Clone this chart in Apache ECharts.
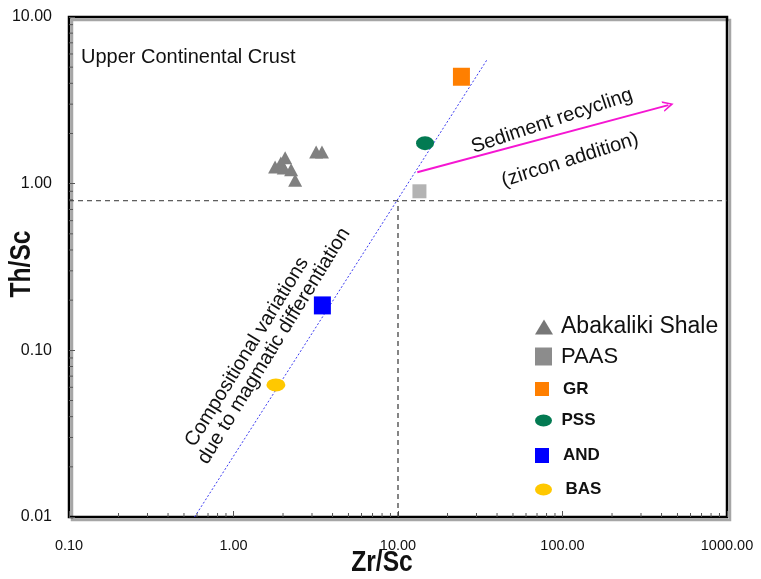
<!DOCTYPE html>
<html>
<head>
<meta charset="utf-8">
<script src="https://cdn.jsdelivr.net/npm/echarts@6/dist/echarts.min.js"></script>
<style>
  html, body { margin: 0; padding: 0; background: #fff; }
  #chart { width: 761px; height: 579px; }
</style>
</head>
<body>
<div id="chart"></div>
<script>
// Abakaliki Shale samples (Zr/Sc, Th/Sc)
const shaleZrSc = [1.79, 1.94, 2.06, 2.02, 2.24, 2.37, 3.18, 3.45];
const shaleThSc = [1.26, 1.33, 1.43, 1.24, 1.21, 1.05, 1.55, 1.55];

// Reference compositions
const paas = [13.5, 0.90];
const gr   = [24.3, 4.38];
const pss  = [14.6, 1.75];
const and  = [3.47, 0.186];
const bas  = [1.81, 0.062];

// Magmatic differentiation trend and UCC guide lines
const trendLine = [[0.58, 0.01], [35.0, 5.6]];
const uccTh = 0.79;
const uccZr = 10;
const uccHorizontal = [[0.1, uccTh], [1000, uccTh]];
const uccVertical = [[uccZr, 0.01], [uccZr, uccTh]];

// Sediment recycling arrow
const recyclingArrow = [[13.1, 1.17], [440, 2.96]];

// Axis ranges and minor tick positions
const xRange = [0.1, 1000];
const yRange = [0.01, 10];
const xMinorTicks = [0.2, 0.3, 0.4, 0.5, 0.6, 0.7, 0.8, 0.9,
                     2, 3, 4, 5, 6, 7, 8, 9,
                     20, 30, 40, 50, 60, 70, 80, 90,
                     200, 300, 400, 500, 600, 700, 800, 900];
const yMinorTicks = [0.02, 0.03, 0.04, 0.05, 0.06, 0.07, 0.08, 0.09,
                     0.2, 0.3, 0.4, 0.5, 0.6, 0.7, 0.8, 0.9,
                     2, 3, 4, 5, 6, 7, 8, 9];

const ellipse = 'path://M0,50 A50,50 0 1,1 100,50 A50,50 0 1,1 0,50 Z';
const chevron = 'path://M0,10 L5,0 L10,10 L8.4,10 L5,3.2 L1.6,10 Z';
const sans = '"Liberation Sans", Arial, sans-serif';

const chart = echarts.init(document.getElementById('chart'), null, { renderer: 'canvas' });

function legendBox(name, top, icon, w, h, font, weight, padLeft, color) {
  return {
    show: true,
    left: 535,
    top: top,
    orient: 'vertical',
    padding: 0,
    selectedMode: false,
    symbolKeepAspect: false,
    itemWidth: w,
    itemHeight: h,
    data: [{
      name: name,
      icon: icon,
      itemStyle: color ? { color: color, opacity: 1 } : { opacity: 1 }
    }],
    textStyle: {
      fontFamily: sans,
      fontSize: font,
      fontWeight: weight,
      color: '#111',
      padding: [0, 0, 0, padLeft]
    }
  };
}

function tickSeries(vals, isX) {
  return {
    type: 'custom',
    silent: true,
    clip: false,
    z: 5,
    data: vals.map(v => isX ? [v, yRange[0]] : [xRange[0], v]),
    renderItem: function (params, api) {
      const p = api.coord([api.value(0), api.value(1)]);
      const len = 4;
      return {
        type: 'line',
        shape: isX
          ? { x1: p[0], y1: p[1], x2: p[0], y2: p[1] - len }
          : { x1: p[0], y1: p[1], x2: p[0] + len, y2: p[1] },
        style: { stroke: '#555', lineWidth: 1 }
      };
    }
  };
}

const option = {
  backgroundColor: '#fff',
  animation: false,
  grid: {
    left: 69, right: 34, top: 17, bottom: 62,
    containLabel: false,
    outerBoundsMode: 'none',
    show: true,
    borderColor: '#000',
    borderWidth: 2.5,
    backgroundColor: 'transparent',
    shadowColor: 'rgba(0,0,0,0.35)',
    shadowOffsetX: 3,
    shadowOffsetY: 3,
    shadowBlur: 0
  },
  xAxis: {
    type: 'log',
    logBase: 10,
    min: xRange[0],
    max: xRange[1],
    splitNumber: 4,
    axisLine: { show: false },
    axisTick: { show: true, inside: true, length: 6, lineStyle: { color: '#555' } },
    splitLine: { show: false },
    axisLabel: {
      margin: 21,
      fontFamily: sans,
      fontSize: 14.5,
      color: '#111',
      formatter: v => Number(v).toFixed(2)
    }
  },
  yAxis: {
    type: 'log',
    logBase: 10,
    min: yRange[0],
    max: yRange[1],
    splitNumber: 3,
    axisLine: { show: false },
    axisTick: { show: true, inside: true, length: 6, lineStyle: { color: '#555' } },
    splitLine: { show: false },
    axisLabel: {
      margin: 17,
      fontFamily: sans,
      fontSize: 16,
      color: '#111',
      formatter: v => Number(v).toFixed(2)
    }
  },
  legend: [
    legendBox('Abakaliki Shale', 315.5, 'triangle', 18, 15, 23, 'normal', 3, '#777'),
    legendBox('PAAS', 345.5, 'rect', 17, 18, 22, 'normal', 4, '#8c8c8c'),
    legendBox('GR', 380.5, 'rect', 14, 14, 17, 'bold', 9),
    legendBox('PSS', 412, ellipse, 17, 12, 17, 'bold', 4.5),
    legendBox('AND', 447, 'rect', 14, 15, 17, 'bold', 9),
    legendBox('BAS', 481, ellipse, 17, 12, 17, 'bold', 8.5)
  ],
  series: [
    tickSeries(xMinorTicks, true),
    tickSeries(yMinorTicks, false),
    {
      name: 'ucc-h', type: 'line', data: uccHorizontal, symbol: 'none', silent: true,
      lineStyle: { color: '#333', width: 1, type: [5, 4] }, z: 2
    },
    {
      name: 'ucc-v', type: 'line', data: uccVertical, symbol: 'none', silent: true,
      lineStyle: { color: '#333', width: 1.2, type: [5, 4] }, z: 2
    },
    {
      name: 'trend', type: 'line', data: trendLine, symbol: 'none', silent: true,
      lineStyle: { color: '#3b3bf0', width: 1, type: [2, 2] }, z: 2
    },
    {
      name: 'recycling', type: 'lines', coordinateSystem: 'cartesian2d', silent: true,
      symbol: ['none', chevron], symbolSize: [10, 11],
      lineStyle: { color: '#f516d2', width: 2, opacity: 1 },
      data: [{ coords: recyclingArrow }], z: 3
    },
    {
      name: 'Abakaliki Shale', type: 'scatter', symbol: 'triangle', symbolSize: [14, 13],
      itemStyle: { color: '#808080', opacity: 1 },
      data: shaleZrSc.map((x, i) => [x, shaleThSc[i]]), z: 4
    },
    {
      name: 'PAAS', type: 'scatter', symbol: 'rect', symbolSize: [14, 14],
      itemStyle: { color: '#b3b3b3', opacity: 1 }, data: [paas], z: 4
    },
    {
      name: 'GR', type: 'scatter', symbol: 'rect', symbolSize: [17, 18],
      itemStyle: { color: '#ff7f00', opacity: 1 }, data: [gr], z: 4
    },
    {
      name: 'PSS', type: 'scatter', symbol: ellipse, symbolSize: [18, 14],
      itemStyle: { color: '#037a52', opacity: 1 }, data: [pss], z: 4
    },
    {
      name: 'AND', type: 'scatter', symbol: 'rect', symbolSize: [17, 18],
      itemStyle: { color: '#0000ff', opacity: 1 }, data: [and], z: 4
    },
    {
      name: 'BAS', type: 'scatter', symbol: ellipse, symbolSize: [19, 13],
      itemStyle: { color: '#ffc800', opacity: 1 }, data: [bas], z: 4
    }
  ],
  graphic: [
    {
      type: 'text', x: 382, y: 563, scaleX: 0.82, silent: true,
      style: { text: 'Zr/Sc', font: 'bold 30px ' + sans, fill: '#111',
               align: 'center', verticalAlign: 'middle' }
    },
    {
      type: 'text', x: 22, y: 264, rotation: Math.PI / 2, scaleX: 0.82, silent: true,
      style: { text: 'Th/Sc', font: 'bold 30px ' + sans, fill: '#111',
               align: 'center', verticalAlign: 'middle' }
    },
    {
      type: 'text', x: 81, y: 57, silent: true,
      style: { text: 'Upper Continental Crust', font: '20px ' + sans, fill: '#111',
               align: 'left', verticalAlign: 'middle' }
    },
    {
      type: 'text', x: 552, y: 121, rotation: 18.5 * Math.PI / 180, silent: true,
      style: { text: 'Sediment recycling', font: '20px ' + sans, fill: '#111',
               align: 'center', verticalAlign: 'middle' }
    },
    {
      type: 'text', x: 570, y: 160, rotation: 17.5 * Math.PI / 180, silent: true,
      style: { text: '(zircon addition)', font: '20px ' + sans, fill: '#111',
               align: 'center', verticalAlign: 'middle' }
    },
    {
      type: 'text', x: 247, y: 352, rotation: 58.4 * Math.PI / 180, silent: true,
      style: { text: 'Compositional variations', font: '20px ' + sans, fill: '#111',
               align: 'center', verticalAlign: 'middle' }
    },
    {
      type: 'text', x: 274, y: 346, rotation: 58.4 * Math.PI / 180, silent: true,
      style: { text: 'due to magmatic differentiation', font: '20px ' + sans, fill: '#111',
               align: 'center', verticalAlign: 'middle' }
    }
  ]
};

chart.setOption(option);
</script>
</body>
</html>
